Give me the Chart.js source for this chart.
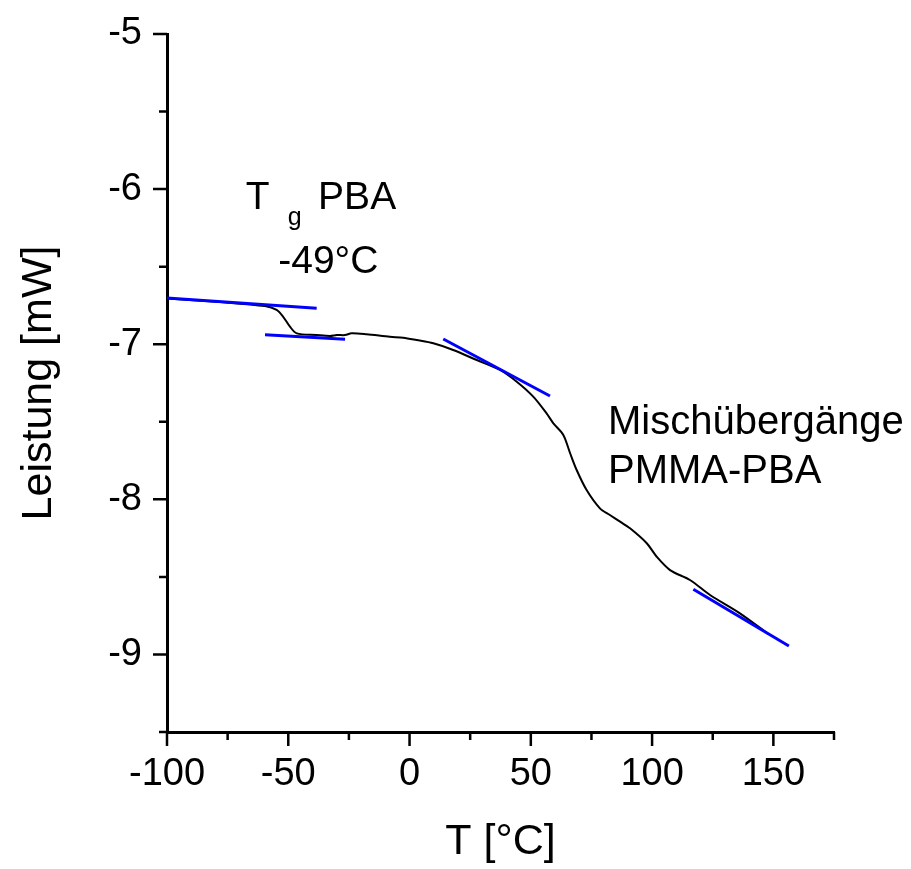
<!DOCTYPE html>
<html>
<head>
<meta charset="utf-8">
<script src="https://cdn.jsdelivr.net/npm/chart.js@4.4.1/dist/chart.umd.min.js"></script>
<style>
  html, body { margin: 0; padding: 0; background: #fff; }
  canvas { display: block; }
</style>
</head>
<body>
<canvas id="dsc" width="911" height="869"></canvas>
<script>
// DSC-Kurve PMMA-PBA (Leistung gegen Temperatur)
const tempC = [-100, -78.1, -59.6, -54.8, -52.1, -49.3, -46.5, -38.3, -32.8, -30.0, -26.6, -23.9, -17.7, -8.1, -2.6, 2.9, 9.8, 18.0, 27.7, 37.3, 44.2, 51.0, 56.5, 59.3, 63.4, 66.2, 68.9, 73.0, 78.5, 82.6, 86.8, 90.9, 97.8, 101.9, 107.4, 115.6, 123.9, 136.2, 147.9];
const powerMW = [-6.705, -6.728, -6.754, -6.779, -6.823, -6.887, -6.930, -6.941, -6.947, -6.941, -6.941, -6.930, -6.936, -6.952, -6.958, -6.973, -6.994, -7.037, -7.102, -7.166, -7.242, -7.338, -7.446, -7.510, -7.585, -7.703, -7.811, -7.940, -8.058, -8.101, -8.144, -8.187, -8.283, -8.370, -8.456, -8.520, -8.617, -8.735, -8.868];

// Tangenten (blau)
const tangente1T = [-100, -38.3];
const tangente1P = [-6.702, -6.768];
const tangente2T = [-59.6, -26.6];
const tangente2P = [-6.939, -6.968];
const tangente3T = [13.9, 57.9];
const tangente3P = [-6.966, -7.334];
const tangente4T = [117.0, 156.4];
const tangente4P = [-8.580, -8.946];

// Achsen
const xTicks = [-100, -50, 0, 50, 100, 150];
const xMinor = [-75, -25, 25, 75, 125, 175];
const yTicks = [-5, -6, -7, -8, -9];
const yMinor = [-5.5, -6.5, -7.5, -8.5, -9.5];

const FONT = "'Liberation Sans', Arial, sans-serif";
const toPoints = (xs, ys) => xs.map((x, i) => ({ x: x, y: ys[i] }));

function tangente(t, p) {
  return {
    data: toPoints(t, p),
    borderColor: "#0000ff",
    borderWidth: 3,
    showLine: true,
    pointRadius: 0,
    order: 0,
  };
}

// Striche an den Achsen + Beschriftungen im Diagramm
const achsenStriche = {
  id: "achsenStriche",
  afterDraw(chart) {
    const { ctx, chartArea, scales } = chart;
    const sx = scales.x, sy = scales.y;
    ctx.save();
    ctx.strokeStyle = "#000";
    ctx.lineWidth = 2.5;
    ctx.beginPath();
    xTicks.forEach((v) => {
      const p = sx.getPixelForValue(v);
      ctx.moveTo(p, chartArea.bottom);
      ctx.lineTo(p, chartArea.bottom + 14);
    });
    xMinor.forEach((v) => {
      const p = sx.getPixelForValue(v);
      ctx.moveTo(p, chartArea.bottom);
      ctx.lineTo(p, chartArea.bottom + 8);
    });
    yTicks.forEach((v) => {
      const p = sy.getPixelForValue(v);
      ctx.moveTo(chartArea.left, p);
      ctx.lineTo(chartArea.left - 14, p);
    });
    yMinor.forEach((v) => {
      const p = sy.getPixelForValue(v);
      ctx.moveTo(chartArea.left, p);
      ctx.lineTo(chartArea.left - 8, p);
    });
    ctx.stroke();

    ctx.fillStyle = "#000";
    ctx.textBaseline = "alphabetic";
    ctx.textAlign = "left";
    ctx.font = "39px " + FONT;
    ctx.fillText("T", sx.getPixelForValue(-67.5), sy.getPixelForValue(-6.130));
    ctx.fillText("PBA", sx.getPixelForValue(-37.7), sy.getPixelForValue(-6.130));
    ctx.font = "25px " + FONT;
    ctx.fillText("g", sx.getPixelForValue(-50.2), sy.getPixelForValue(-6.232));
    ctx.font = "39px " + FONT;
    ctx.textAlign = "center";
    ctx.fillText("-49°C", sx.getPixelForValue(-33.5), sy.getPixelForValue(-6.543));
    ctx.textAlign = "left";
    ctx.font = "40px " + FONT;
    ctx.fillText("Mischübergänge", sx.getPixelForValue(81.8), sy.getPixelForValue(-7.579));
    ctx.fillText("PMMA-PBA", sx.getPixelForValue(81.8), sy.getPixelForValue(-7.895));
    ctx.restore();
  },
};

new Chart(document.getElementById("dsc"), {
  type: "scatter",
  data: {
    datasets: [
      {
        data: toPoints(tempC, powerMW),
        borderColor: "#000",
        borderWidth: 2,
        showLine: true,
        pointRadius: 0,
        tension: 0.3,
        order: 1,
      },
      tangente(tangente1T, tangente1P),
      tangente(tangente2T, tangente2P),
      tangente(tangente3T, tangente3P),
      tangente(tangente4T, tangente4P),
    ],
  },
  options: {
    responsive: false,
    animation: false,
    layout: { padding: { top: 34, right: 77, left: 0, bottom: 0 } },
    plugins: {
      legend: { display: false },
      tooltip: { enabled: false },
    },
    scales: {
      x: {
        type: "linear",
        min: -100,
        max: 175,
        grid: { display: false, drawTicks: false },
        border: { display: true, color: "#000", width: 3 },
        afterBuildTicks: (s) => { s.ticks = xTicks.map((v) => ({ value: v })); },
        afterFit: (s) => { s.height = 137; s.paddingLeft = 0; s.paddingRight = 0; },
        ticks: {
          padding: 20,
          color: "#000",
          font: { size: 38, family: FONT },
          callback: (v) => String(v),
        },
        title: {
          display: true,
          text: "T [°C]",
          color: "#000",
          font: { size: 43, family: FONT },
          padding: { top: 0, bottom: 1 },
        },
      },
      y: {
        type: "linear",
        min: -9.5,
        max: -5,
        grid: { display: false, drawTicks: false },
        border: { display: true, color: "#000", width: 3 },
        afterBuildTicks: (s) => { s.ticks = yTicks.map((v) => ({ value: v })); },
        afterFit: (s) => { s.width = 167; s.paddingTop = 0; s.paddingBottom = 0; },
        ticks: {
          padding: 25,
          color: "#000",
          font: { size: 38, family: FONT },
          callback: (v) => String(v),
        },
        title: {
          display: true,
          text: "Leistung [mW]",
          color: "#000",
          font: { size: 43, family: FONT },
          padding: { top: 13, bottom: 0 },
        },
      },
    },
  },
  plugins: [achsenStriche],
});
</script>
</body>
</html>
